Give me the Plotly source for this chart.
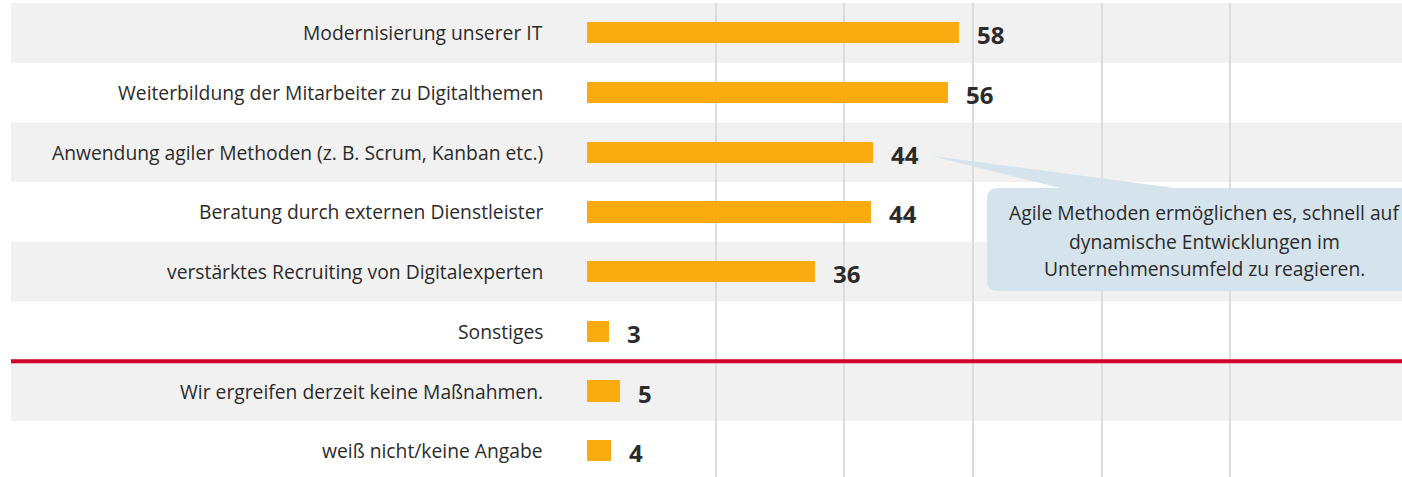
import plotly.graph_objects as go

categories = [
    "Modernisierung unserer IT",
    "Weiterbildung der Mitarbeiter zu Digitalthemen",
    "Anwendung agiler Methoden (z. B. Scrum, Kanban etc.)",
    "Beratung durch externen Dienstleister",
    "verstärktes Recruiting von Digitalexperten",
    "Sonstiges",
    "Wir ergreifen derzeit keine Maßnahmen.",
    "weiß nicht/keine Angabe",
]
values = [57.8, 56.1, 44.4, 44.1, 35.5, 3.4, 5.1, 3.7]
value_labels = ["58", "56", "44", "44", "36", "3", "5", "4"]
grid_ticks = [0, 20, 40, 60, 80, 100]
callout_text = ["Agile Methoden ermöglichen es, schnell auf",
                "dynamische Entwicklungen im",
                "Unternehmensumfeld zu reagieren."]

W, H = 1402, 477
ML, MR, MT, MB = 587, 0, 3, 0
PW, PH = W - ML - MR, H - MT - MB
PX_PER_UNIT = 6.433
XMAX = PW / PX_PER_UNIT
ROW_PX = 59.7
YBOT = -0.5 + PH / ROW_PX

def px(xp):
    return (xp - ML) / PW

def py(yp):
    return 1 - (yp - MT) / PH

ypos = list(range(len(categories)))

BAR = "#F9AB10"
TXT = "#2b2b2b"
FONT = "Open Sans"
FS = 19.3

fig = go.Figure()
fig.add_trace(go.Bar(
    x=values, y=ypos, orientation="h", width=0.355,
    marker=dict(color=BAR, line=dict(width=0)),
    hoverinfo="skip",
))

shapes = []
# alternating grey row bands
for i in ypos:
    if i % 2 == 0:
        shapes.append(dict(type="rect", xref="paper", yref="y",
                           x0=px(11), x1=1.0, y0=i - 0.5, y1=i + 0.5,
                           fillcolor="#f1f1f1", line=dict(width=0), layer="below"))
# red separator
shapes.append(dict(type="line", xref="paper", yref="y",
                   x0=px(11), x1=1.0, y0=5.5, y1=5.5,
                   line=dict(color="#D0022B", width=4), layer="above"))

# callout bubble (rounded box + wedge)
bx0, bx1, by0, by1, r = 987, 1430, 188, 291, 11
tipx, tipy = 931.5, 156
w0, w1 = 1060, 1175
def P(xp, yp):
    return f"{px(xp):.5f},{py(yp):.5f}"
path = (f"M {P(bx0 + r, by0)} L {P(w0, by0)} L {P(tipx, tipy)} L {P(w1, by0)} "
        f"L {P(bx1 - r, by0)} Q {P(bx1, by0)} {P(bx1, by0 + r)} "
        f"L {P(bx1, by1 - r)} Q {P(bx1, by1)} {P(bx1 - r, by1)} "
        f"L {P(bx0 + r, by1)} Q {P(bx0, by1)} {P(bx0, by1 - r)} "
        f"L {P(bx0, by0 + r)} Q {P(bx0, by0)} {P(bx0 + r, by0)} Z")
shapes.append(dict(type="path", xref="paper", yref="paper", path=path,
                   fillcolor="#D5E3EC", line=dict(width=0), layer="above"))

annotations = []
for i, (cat, v, lab) in enumerate(zip(categories, values, value_labels)):
    annotations.append(dict(x=0, y=i, xref="x", yref="y", text=cat,
                            xanchor="right", yanchor="middle", xshift=-42, yshift=0,
                            showarrow=False, font=dict(family=FONT, size=FS, color=TXT)))
    annotations.append(dict(x=v, y=i, xref="x", yref="y", text=f"<b>{lab}</b>",
                            xanchor="left", yanchor="middle", xshift=16, yshift=-2,
                            showarrow=False, font=dict(family="Open Sans", size=24, color=TXT)))

for k, (line, yp) in enumerate(zip(callout_text, [213, 241, 268])):
    annotations.append(dict(x=px(1204), y=py(yp), xref="paper", yref="paper",
                            text=line, xanchor="center", yanchor="middle", showarrow=False,
                            font=dict(family=FONT, size=FS, color=TXT)))

fig.update_layout(
    width=W, height=H,
    margin=dict(l=ML, r=MR, t=MT, b=MB, pad=0),
    paper_bgcolor="white", plot_bgcolor="rgba(0,0,0,0)",
    showlegend=False, bargap=0,
    shapes=shapes, annotations=annotations,
    xaxis=dict(range=[0, XMAX], tickvals=grid_ticks, showticklabels=False,
               showgrid=True, gridcolor="#dcdcdc", gridwidth=1.5,
               zeroline=False, showline=False, fixedrange=True),
    yaxis=dict(range=[YBOT, -0.5], showticklabels=False, showgrid=False,
               zeroline=False, showline=False, fixedrange=True),
)

fig.write_html("out.html", config={"displayModeBar": False})
